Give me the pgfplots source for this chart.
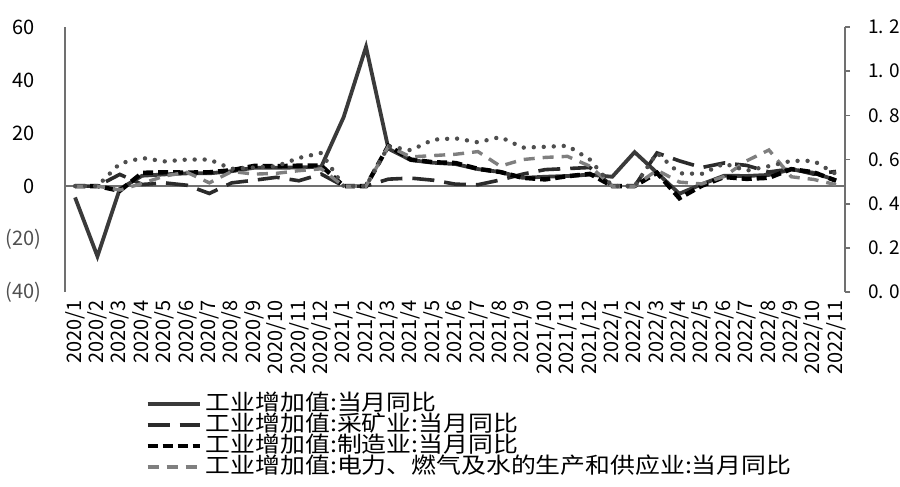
\documentclass[border=0pt]{standalone}
\usepackage{fontspec}
\setmainfont{Noto Sans CJK SC}
\newfontfamily\legfont[FakeStretch=1.13]{Noto Sans CJK SC}
\usepackage{pgfplots}
\usepackage{pgfplotstable}
\pgfplotsset{compat=1.18}

\definecolor{totc}{HTML}{3A3A3A}
\definecolor{minc}{HTML}{2B2B2B}
\definecolor{elec}{HTML}{7F7F7F}
\definecolor{othc}{HTML}{4E4E4E}
\definecolor{axisgray}{HTML}{707070}
\definecolor{labgray}{HTML}{505050}

% month index, total, mining, manufacturing, utilities, dotted series
\pgfplotstableread{
idx total mining manuf elec other
0  -4.3  0    0    0    0
1  -26.5 0    0    0    0
2  -1.1  4.4  -1.8 -1.5 8.5
3  3.9   0.6  5.0  1.0  10.6
4  4.4   1.2  5.2  3.8  9.3
5  4.8   0.3  5.1  5.2  10.0
6  4.8   -2.8 5.2  1.2  10.0
7  5.6   1.2  6.0  5.5  6.5
8  6.9   2.2  7.6  4.5  7.0
9  6.9   3.3  7.5  4.8  7.5
10 7.0   2.0  7.7  5.8  10.6
11 7.3   4.5  7.7  6.5  12.5
12 26.0  0    0    0    0
13 52.5  0    0    0    0
14 14.1  2.6  15.2 15.0 15.0
15 9.8   3.0  10.0 11.0 13.5
16 8.8   2.2  9.0  11.5 17.5
17 8.3   0.7  8.7  12.0 18.0
18 6.4   0.5  6.5  13.0 16.5
19 5.3   2.3  5.3  7.5  18.5
20 3.1   4.5  3.1  10.0 14.5
21 3.5   6.2  2.5  10.8 14.8
22 3.8   6.6  3.7  11.2 15.2
23 4.3   7.0  4.6  7.5  10.0
24 3.5   0    0    0    0
25 12.8  0    0    0    0
26 5.0   12.5 5.0  6.0  12.5
27 -2.9  9.5  -4.6 1.5  4.8
28 0.7   7.0  0.1  0.8  4.6
29 3.9   8.7  3.4  3.6  8.5
30 3.8   7.8  2.7  9.5  5.8
31 4.2   5.3  3.1  13.6 7.5
32 6.3   6.5  6.4  3.5  9.5
33 5.0   4.5  5.2  2.5  9.5
34 2.2   5.5  2.0  0.5  4.5
}\iva

\begin{document}
\begin{tikzpicture}
\begin{axis}[
  name=a,
  scale only axis, width=390pt, height=132.5pt,
  xmin=-0.45, xmax=34.4, ymin=-40, ymax=60,
  axis x line*=bottom, axis y line*=left,
  x axis line style={draw=none},
  y axis line style={draw=axisgray, line width=0.8pt, -},
  major tick length=0pt,
  xtick={0,...,34},
  xticklabels={2020/1,2020/2,2020/3,2020/4,2020/5,2020/6,2020/7,2020/8,2020/9,2020/10,2020/11,2020/12,
    2021/1,2021/2,2021/3,2021/4,2021/5,2021/6,2021/7,2021/8,2021/9,2021/10,2021/11,2021/12,
    2022/1,2022/2,2022/3,2022/4,2022/5,2022/6,2022/7,2022/8,2022/9,2022/10,2022/11},
  x tick label style={rotate=90, anchor=east, inner sep=0pt, inner xsep=4pt,
    font=\fontsize{10}{10}\selectfont},
  ytick={-40,-20,0,20,40,60},
  yticklabels={{\color{labgray}(40\rlap{)}},{\color{labgray}(20\rlap{)}},0,20,40,60},
  y tick label style={anchor=east, inner sep=0pt, xshift=-15pt,
    font=\fontsize{10}{10}\selectfont},
  extra y ticks={0}, extra y tick labels={},
  extra y tick style={grid=major, major grid style={draw=axisgray, line width=0.6pt}},
  /pgf/number format/assume math mode=true,
  legend style={at={(0.1026,-0.381)}, anchor=north west, draw=none, fill=none,
    inner sep=0pt, font=\legfont\fontsize{11}{11}\selectfont, row sep=0pt,
    nodes={inner sep=0pt, text height=8.5pt, text depth=2pt},
    /tikz/every odd column/.append style={column sep=2pt}},
  legend cell align=left,
  legend image code/.code={\draw[#1] (0pt,0pt) -- (26pt,0pt);},
]
\addplot[totc, line width=1.9pt] table[x=idx, y=total] {\iva};
\addlegendentry{工业增加值:当月同比}
\addplot[minc, line width=1.8pt, dash pattern=on 11pt off 5pt] table[x=idx, y=mining] {\iva};
\addlegendentry{工业增加值:采矿业:当月同比}
\addplot[black, line width=2.2pt, dash pattern=on 5pt off 2.5pt] table[x=idx, y=manuf] {\iva};
\addlegendentry{工业增加值:制造业:当月同比}
\addplot[elec, line width=1.7pt, dash pattern=on 5.5pt off 4pt] table[x=idx, y=elec] {\iva};
\addlegendentry{工业增加值:电力、燃气及水的生产和供应业:当月同比}
\addplot[othc, line width=2.2pt, line cap=round, dash pattern=on 0pt off 5pt, forget plot] table[x=idx, y=other] {\iva};
\coordinate (bl) at (rel axis cs:-0.0833,-0.732);
\coordinate (tr) at (rel axis cs:1.0705,1.102);
\end{axis}
\begin{axis}[
  scale only axis, width=390pt, height=132.5pt,
  xmin=-0.45, xmax=34.4, ymin=0, ymax=1.2,
  axis x line=none, axis y line*=right,
  y axis line style={draw=axisgray, line width=0.8pt, -},
  ytick={0,0.2,0.4,0.6,0.8,1.0,1.2},
  yticklabels={0.\hspace{0.3em}0,0.\hspace{0.3em}2,0.\hspace{0.3em}4,0.\hspace{0.3em}6,0.\hspace{0.3em}8,1.\hspace{0.3em}0,1.\hspace{0.3em}2},
  tick align=outside, major tick length=2.5pt,
  major tick style={draw=axisgray, line width=0.8pt},
  y tick label style={anchor=west, inner sep=0pt, xshift=9pt,
    font=\fontsize{9.5}{9.5}\selectfont},
]
\end{axis}
\pgfresetboundingbox
\path[use as bounding box] (bl) rectangle (tr);
\end{tikzpicture}
\end{document}
